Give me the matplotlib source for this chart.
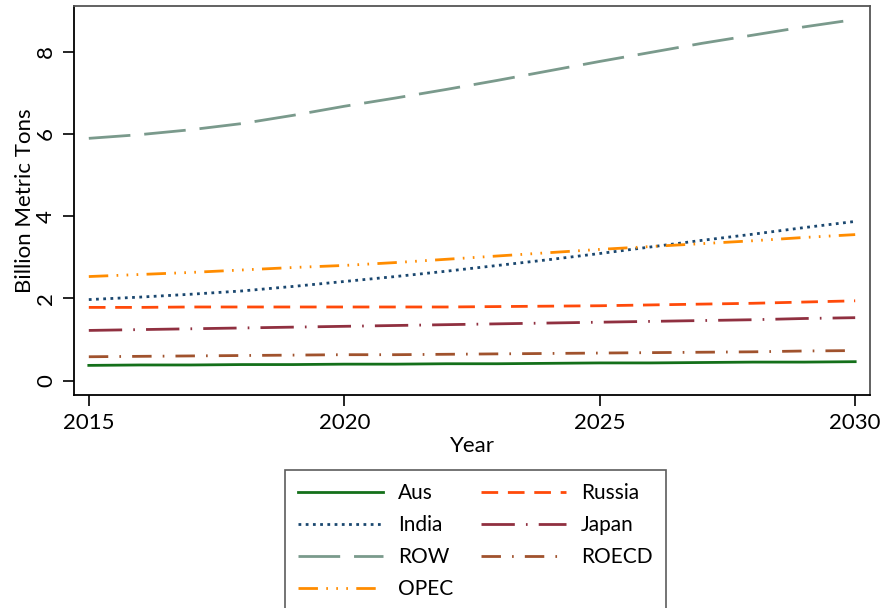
import matplotlib
matplotlib.use("Agg")
import matplotlib.pyplot as plt

plt.rcParams['font.family'] = ['Lato', 'DejaVu Sans']

years = list(range(2015, 2031))
aus = [0.37, 0.38, 0.38, 0.39, 0.39, 0.40, 0.40, 0.41, 0.41, 0.42, 0.43, 0.43, 0.44, 0.45, 0.45, 0.46]
india = [1.97, 2.03, 2.10, 2.18, 2.29, 2.41, 2.53, 2.66, 2.80, 2.94, 3.09, 3.25, 3.41, 3.56, 3.72, 3.87]
row = [5.89, 5.98, 6.10, 6.25, 6.45, 6.67, 6.87, 7.08, 7.30, 7.53, 7.76, 7.98, 8.20, 8.40, 8.60, 8.78]
opec = [2.53, 2.58, 2.63, 2.69, 2.75, 2.80, 2.87, 2.95, 3.03, 3.11, 3.19, 3.26, 3.33, 3.40, 3.48, 3.55]
russia = [1.78, 1.78, 1.79, 1.79, 1.79, 1.79, 1.79, 1.79, 1.80, 1.81, 1.82, 1.84, 1.86, 1.88, 1.91, 1.94]
japan = [1.22, 1.24, 1.26, 1.28, 1.30, 1.32, 1.34, 1.36, 1.38, 1.40, 1.42, 1.44, 1.46, 1.48, 1.51, 1.53]
roecd = [0.58, 0.59, 0.60, 0.61, 0.62, 0.63, 0.63, 0.64, 0.65, 0.66, 0.67, 0.68, 0.69, 0.70, 0.72, 0.73]

xticks = [2015, 2020, 2025, 2030]
yticks = [0, 2, 4, 6, 8]

fs = 16
lfs = 15

fig = plt.figure(figsize=(8.82, 6.08), dpi=100)
ax = fig.add_axes([74/882, 1 - 395/608, (870-74)/882, (395-5.5)/608])

lw = 2.0
ax.plot(years, aus, color='#14701a', lw=lw, ls='-', label='Aus')
ax.plot(years, india, color='#1a476f', lw=lw, ls=(0, (1.0, 1.6)), label='India')
ax.plot(years, row, color='#7a9a8c', lw=lw, ls=(0, (15, 5)), label='ROW')
ax.plot(years, opec, color='#ff8c00', lw=lw, ls=(0, (7, 3, 0.6, 3, 0.6, 3, 0.6, 3)), label='OPEC')
ax.plot(years, russia, color='#ff4a0a', lw=lw, ls=(0, (6, 3.5)), label='Russia')
ax.plot(years, japan, color='#903040', lw=lw, ls=(0, (12, 4, 0.6, 4)), label='Japan')
ax.plot(years, roecd, color='#a0522d', lw=lw, ls=(0, (7, 4, 0.6, 4)), label='ROECD')

ax.set_xlim(2014.71, 2030.29)
ax.set_ylim(-0.35, 9.12)
ax.set_xticks(xticks)
ax.set_yticks(yticks)
ax.tick_params(axis='both', direction='out', length=8, width=1.2, labelsize=fs, colors='black')
ax.tick_params(axis='y', labelrotation=90, pad=5)
ax.tick_params(axis='x', pad=5)
for lab in ax.get_yticklabels():
    lab.set_verticalalignment('center')
ax.set_xlabel('Year', fontsize=fs, labelpad=2)
ax.set_ylabel('Billion Metric Tons', fontsize=fs, labelpad=1)
for s in ['left', 'bottom']:
    ax.spines[s].set_color('black')
    ax.spines[s].set_linewidth(1.3)
for s in ['top', 'right']:
    ax.spines[s].set_color('#555555')
    ax.spines[s].set_linewidth(1.3)

handles, labels = ax.get_legend_handles_labels()
leg = fig.legend(handles, labels,
                 ncol=2, loc='upper left', bbox_to_anchor=(285/882, 1 - 470/608),
                 fontsize=lfs, frameon=True, fancybox=False, handlelength=4.1,
                 handletextpad=0.72, columnspacing=1.3, labelspacing=0.58,
                 borderpad=0.62, borderaxespad=0)
leg.get_frame().set_edgecolor('#333333')
leg.get_frame().set_linewidth(1.2)

fig.savefig('out.png', dpi=100)
